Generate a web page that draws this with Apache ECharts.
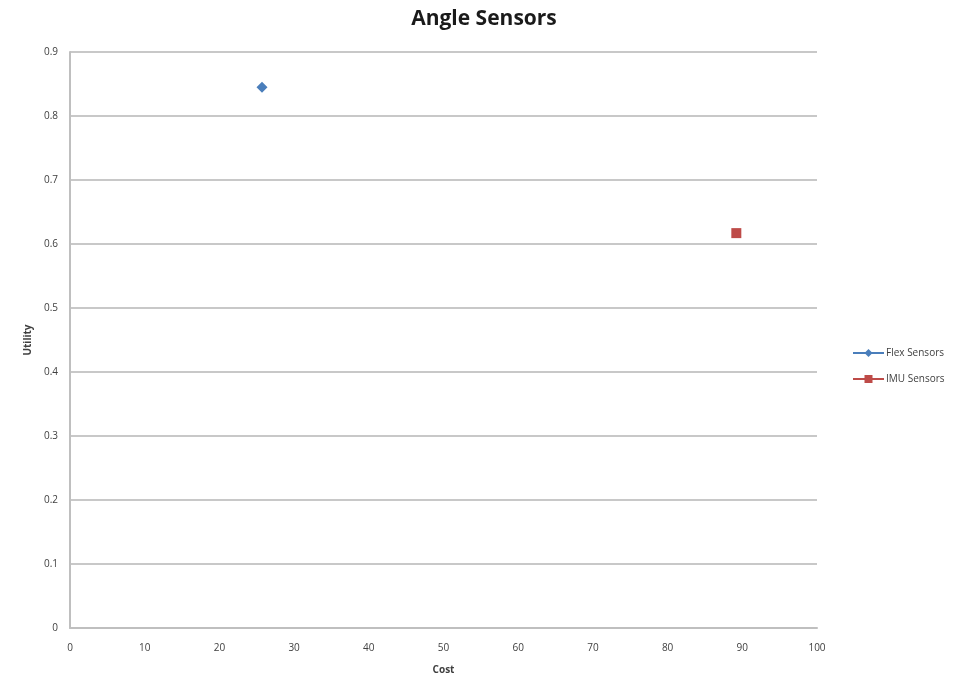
<!DOCTYPE html>
<html>
<head>
<meta charset="utf-8">
<script src="https://cdn.jsdelivr.net/npm/echarts@6/dist/echarts.min.js"></script>
<style>
  html, body { margin: 0; padding: 0; background: #fff; }
  #chart { width: 957px; height: 677px; }
</style>
</head>
<body>
<div id="chart"></div>
<script>
// Cost vs. utility of the angle sensor options
const seriesNames = ['Flex Sensors', 'IMU Sensors'];
const flexPoint = [25.7, 0.845];
const imuPoint = [89.2, 0.617];
const seriesColors = ['#4a7ebb', '#be4b48'];

const chart = echarts.init(document.getElementById('chart'));

const labelFont = { fontFamily: 'Open Sans', fontSize: 10, color: '#404040' };

chart.setOption({
  animation: false,
  backgroundColor: '#ffffff',
  title: {
    text: 'Angle Sensors',
    left: 479,
    textAlign: 'center',
    top: 4,
    textStyle: { fontFamily: 'Open Sans', fontWeight: 'bold', fontSize: 21, color: '#1a1a1a' }
  },
  grid: { left: 70, right: 140, top: 52, bottom: 49, containLabel: false, outerBoundsMode: 'none' },
  legend: {
    orient: 'vertical',
    left: 847,
    top: 343,
    itemWidth: 31,
    itemHeight: 10,
    itemGap: 16,
    data: seriesNames,
    lineStyle: { width: 2, opacity: 1 },
    textStyle: { fontFamily: 'Open Sans', fontSize: 10, color: '#404040', padding: [0, 0, 0, -3] }
  },
  xAxis: {
    type: 'value',
    min: 0, max: 100, interval: 10,
    name: 'Cost',
    nameLocation: 'middle',
    nameGap: 37,
    nameTextStyle: { fontFamily: 'Open Sans', fontSize: 10, fontWeight: 'bold', color: '#404040' },
    axisLine: { show: true, lineStyle: { color: '#bfbfbf', width: 2 } },
    axisTick: { show: false },
    axisLabel: Object.assign({ margin: 15 }, labelFont),
    splitLine: { show: false }
  },
  yAxis: {
    type: 'value',
    min: 0, max: 0.9, interval: 0.1,
    name: 'Utility',
    nameLocation: 'middle',
    nameGap: 36,
    nameTextStyle: { fontFamily: 'Open Sans', fontSize: 10, fontWeight: 'bold', color: '#404040' },
    axisLine: { show: true, lineStyle: { color: '#bfbfbf', width: 2 } },
    axisTick: { show: false },
    axisLabel: Object.assign({ margin: 12, formatter: v => String(Math.round(v * 10) / 10) }, labelFont),
    splitLine: { show: true, lineStyle: { color: '#c8c8c8', width: 2 } }
  },
  series: [
    {
      name: seriesNames[0],
      type: 'line',
      data: [flexPoint],
      symbol: 'diamond',
      symbolSize: 11,
      itemStyle: { color: seriesColors[0] },
      lineStyle: { color: seriesColors[0], width: 2 }
    },
    {
      name: seriesNames[1],
      type: 'line',
      data: [imuPoint],
      symbol: 'rect',
      symbolSize: 10,
      itemStyle: { color: seriesColors[1] },
      lineStyle: { color: seriesColors[1], width: 2 }
    }
  ]
});
</script>
</body>
</html>
